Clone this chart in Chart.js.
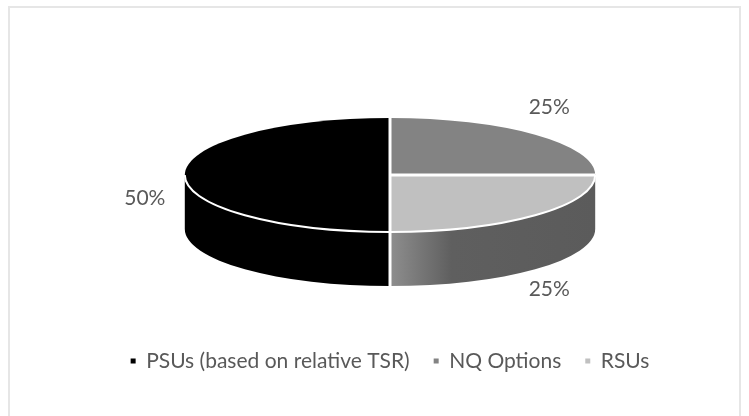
<!DOCTYPE html>
<html lang="en">
<head>
  <meta charset="UTF-8">
  <title>Award Mix</title>
  <script src="https://cdn.jsdelivr.net/npm/chart.js"></script>
  <style>
    html, body { margin: 0; padding: 0; background: #fff; }
  </style>
</head>
<body>
  <canvas id="chart" width="749" height="416"></canvas>

  <script>
    const categories = ['PSUs (based on relative TSR)', 'NQ Options', 'RSUs'];
    const shares = [50, 25, 25];

    const topColors = ['#000000', '#838383', '#c0c0c0'];
    const TILT = 3.6;   // horizontal stretch of the top face
    const DEPTH = 54;   // height of the pie wall, px

    // part of [s, e] that lies on the front (lower) half of the ellipse
    function frontSpan(s, e) {
      for (let k = -1; k <= 2; k++) {
        const lo = Math.max(s, 2 * Math.PI * k);
        const hi = Math.min(e, 2 * Math.PI * k + Math.PI);
        if (hi > lo) return [lo, hi];
      }
      return null;
    }

    function wallFill(ctx, i, cx, rx) {
      if (i === 0) return '#000000';
      if (i === 1) return '#5a5a5a';
      const g = ctx.createLinearGradient(cx, 0, cx + rx, 0);
      g.addColorStop(0, '#8e8e8e');
      g.addColorStop(0.3, '#5f5f5f');
      g.addColorStop(1, '#5b5b5b');
      return g;
    }

    const frame = {
      id: 'frame',
      beforeDraw(chart) {
        const ctx = chart.ctx;
        ctx.save();
        ctx.strokeStyle = '#e6e6e6';
        ctx.lineWidth = 2;
        ctx.beginPath();
        ctx.moveTo(9, 416);
        ctx.lineTo(9, 7);
        ctx.lineTo(740, 7);
        ctx.lineTo(740, 416);
        ctx.stroke();
        ctx.restore();
      }
    };

    const pie3d = {
      id: 'pie3d',
      beforeDatasetsDraw(chart) {
        const ctx = chart.ctx;
        const arcs = chart.getDatasetMeta(0).data;
        const { x: cx, y: cy, outerRadius: ry } = arcs[0];
        const rx = ry * TILT;

        ctx.save();
        arcs.forEach((arc, i) => {
          const span = frontSpan(arc.startAngle, arc.endAngle);
          if (!span) return;
          ctx.beginPath();
          ctx.ellipse(cx, cy, rx, ry, 0, span[0], span[1]);
          ctx.ellipse(cx, cy + DEPTH, rx, ry, 0, span[1], span[0], true);
          ctx.closePath();
          ctx.fillStyle = wallFill(ctx, i, cx, rx);
          ctx.fill();
        });
        ctx.restore();

        // top face: let Chart.js draw the circle, stretched sideways
        ctx.save();
        ctx.translate(cx, cy);
        ctx.scale(TILT, 1);
        ctx.translate(-cx, -cy);
      },
      afterDatasetsDraw(chart) {
        const ctx = chart.ctx;
        ctx.restore();

        const arcs = chart.getDatasetMeta(0).data;
        const { x: cx, y: cy, outerRadius: ry } = arcs[0];
        const rx = ry * TILT;

        ctx.save();
        ctx.strokeStyle = '#ffffff';

        // rim between top face and wall
        ctx.lineWidth = 2;
        ctx.beginPath();
        ctx.ellipse(cx, cy, rx, ry, 0, 0, Math.PI);
        ctx.stroke();

        // slice separators on top and down the wall
        ctx.lineWidth = 3;
        arcs.forEach(arc => {
          const a = arc.startAngle;
          const px = cx + rx * Math.cos(a);
          const py = cy + ry * Math.sin(a);
          ctx.beginPath();
          ctx.moveTo(cx, cy);
          ctx.lineTo(px, py);
          if (Math.sin(a) > 0.05) ctx.lineTo(px, py + DEPTH);
          ctx.stroke();
        });

        // percentage labels outside each slice
        const total = shares.reduce((s, v) => s + v, 0);
        ctx.fillStyle = '#595959';
        ctx.font = '21px Lato';
        ctx.textAlign = 'center';
        ctx.textBaseline = 'middle';
        arcs.forEach((arc, i) => {
          const mid = (arc.startAngle + arc.endAngle) / 2;
          const c = Math.cos(mid), s = Math.sin(mid);
          const lx = cx + c * (rx + 40) - Math.sign(c) * 20 * Math.abs(s);
          const ly = cy + 23 + s * (ry + 72);
          ctx.fillText(Math.round(shares[i] / total * 100) + '%', lx, ly);
        });
        ctx.restore();
      }
    };

    new Chart(document.getElementById('chart'), {
      type: 'pie',
      data: {
        labels: categories,
        datasets: [{
          data: shares,
          backgroundColor: topColors,
          borderWidth: 0,
          hoverOffset: 0,
          radius: 57
        }]
      },
      options: {
        responsive: false,
        animation: false,
        rotation: 180,
        layout: { padding: { top: 23.5, bottom: 34.5, left: 31, right: 0 } },
        plugins: {
          tooltip: { enabled: false },
          legend: {
            position: 'bottom',
            labels: {
              boxWidth: 5,
              boxHeight: 5,
              padding: 24,
              color: '#595959',
              font: { family: 'Lato', size: 21 }
            }
          }
        }
      },
      plugins: [frame, pie3d]
    });
  </script>
</body>
</html>
